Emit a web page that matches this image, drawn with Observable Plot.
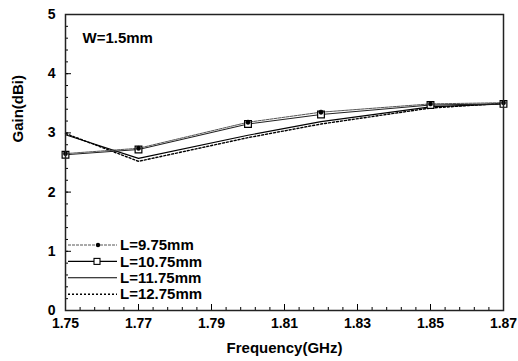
<!DOCTYPE html>
<html>
<head>
<meta charset="utf-8">
<script src="https://cdn.jsdelivr.net/npm/d3@7"></script>
<script src="https://cdn.jsdelivr.net/npm/@observablehq/plot@0.6"></script>
<style>
  html, body { margin: 0; padding: 0; background: #fff; }
  #chart { width: 518px; height: 361px; }
</style>
</head>
<body>
<div id="chart"></div>
<script>
// ---- data ----
const freq = [1.75, 1.77, 1.80, 1.82, 1.85, 1.87];
const gainL975  = [2.65, 2.74, 3.18, 3.35, 3.49, 3.51];
const gainL1075 = [2.63, 2.72, 3.15, 3.31, 3.47, 3.49];
const gainL1175 = [2.97, 2.57, 2.96, 3.19, 3.44, 3.49];
const gainL1275 = [2.99, 2.52, 2.92, 3.15, 3.42, 3.50];
const seriesNames = ["L=9.75mm", "L=10.75mm", "L=11.75mm", "L=12.75mm"];
const xTicks = [1.75, 1.77, 1.79, 1.81, 1.83, 1.85, 1.87];
const yTicks = [0, 1, 2, 3, 4, 5];
const annotation = "W=1.5mm";
const xLabel = "Frequency(GHz)";
const yLabel = "Gain(dBi)";

// ---- layout ----
const W = 518, H = 361;
const mL = 65, mR = 15, mT = 14, mB = 51;
const plotW = W - mL - mR, plotH = H - mT - mB;
const font = "Liberation Sans, Arial, Helvetica, sans-serif";

const rows = v => freq.map((f, i) => ({f, g: v[i]}));
const xMinor = d3.range(0, 31).map(i => +(1.75 + i * 0.004).toFixed(3));
const yMinor = d3.range(0, 26).map(i => +(i * 0.2).toFixed(1));

const chart = Plot.plot({
  width: W, height: H,
  marginLeft: mL, marginRight: mR, marginTop: mT, marginBottom: mB,
  style: {fontFamily: font, background: "#fff", color: "#000"},
  x: {domain: [1.75, 1.87]},
  y: {domain: [0, 5]},
  marks: [
    // inward minor / major ticks
    Plot.ruleX(xMinor, {x: d => d, insetTop: plotH - 3, stroke: "#000", strokeWidth: 1}),
    Plot.ruleX(xTicks, {x: d => d, insetTop: plotH - 6, stroke: "#000", strokeWidth: 1}),
    Plot.ruleY(yMinor, {y: d => d, insetRight: plotW - 3, stroke: "#000", strokeWidth: 1}),
    Plot.ruleY(yTicks, {y: d => d, insetRight: plotW - 6, stroke: "#000", strokeWidth: 1}),
    // tick labels
    Plot.axisX(xTicks, {tickSize: 0, tickPadding: 8, tickFormat: d3.format(".2f"), fontSize: 14, fontWeight: "bold", label: null}),
    Plot.axisY(yTicks, {tickSize: 0, tickPadding: 10, tickFormat: d3.format("d"), fontSize: 14, fontWeight: "bold", label: null}),
    // axis titles
    Plot.text([xLabel], {frameAnchor: "bottom", dy: 38, fontSize: 15, fontWeight: "bold", lineAnchor: "middle"}),
    Plot.text([yLabel], {frameAnchor: "left", dx: -47, dy: -20, rotate: -90, fontSize: 15, fontWeight: "bold", lineAnchor: "middle"}),
    // annotation
    Plot.text([annotation], {frameAnchor: "top-left", dx: 17, dy: 24, textAnchor: "start", lineAnchor: "middle", fontSize: 15, fontWeight: "bold"}),
    // series lines
    Plot.line(rows(gainL1275), {x: "f", y: "g", stroke: "#000", strokeWidth: 1.4, strokeDasharray: "2,2"}),
    Plot.line(rows(gainL1175), {x: "f", y: "g", stroke: "#000", strokeWidth: 1.1}),
    Plot.line(rows(gainL1075), {x: "f", y: "g", stroke: "#222", strokeWidth: 1.1}),
    Plot.line(rows(gainL975),  {x: "f", y: "g", stroke: "#555", strokeWidth: 1, strokeDasharray: "3,1"}),
    // markers
    Plot.dot(rows(gainL1075), {x: "f", y: "g", symbol: "square", r: 3.8, fill: "#fff", stroke: "#000", strokeWidth: 1.2}),
    Plot.dot(rows(gainL975),  {x: "f", y: "g", r: 2.2, fill: "#000", stroke: "#000", strokeWidth: 0.5}),
    Plot.frame({stroke: "#222", strokeWidth: 1.5})
  ]
});

// ---- legend (inside plot, bottom-left) ----
const svg = d3.select(chart);
const lg = svg.append("g").attr("font-family", font).attr("font-weight", "bold")
  .attr("font-size", 15).attr("text-anchor", "start");
const legendStyles = [
  {dash: "3,1", stroke: "#555", w: 1, marker: "circle"},
  {dash: null, stroke: "#000", w: 1.1, marker: "square"},
  {dash: null, stroke: "#000", w: 1.1, marker: null},
  {dash: "2,2", stroke: "#000", w: 1.4, marker: null}
];
seriesNames.forEach((name, i) => {
  const y = 245 + i * 16.4;
  const s = legendStyles[i];
  const ln = lg.append("line").attr("x1", 68).attr("x2", 117).attr("y1", y).attr("y2", y)
    .attr("stroke", s.stroke).attr("stroke-width", s.w);
  if (s.dash) ln.attr("stroke-dasharray", s.dash);
  if (s.marker === "circle") lg.append("circle").attr("cx", 98).attr("cy", y).attr("r", 2.2).attr("fill", "#000");
  if (s.marker === "square") lg.append("rect").attr("x", 94).attr("y", y - 3).attr("width", 6).attr("height", 6)
    .attr("fill", "#fff").attr("stroke", "#000").attr("stroke-width", 1.1);
  lg.append("text").attr("x", 120).attr("y", y).attr("dy", "0.35em").attr("text-anchor", "start").text(name);
});

document.getElementById("chart").appendChild(chart);
</script>
</body>
</html>
